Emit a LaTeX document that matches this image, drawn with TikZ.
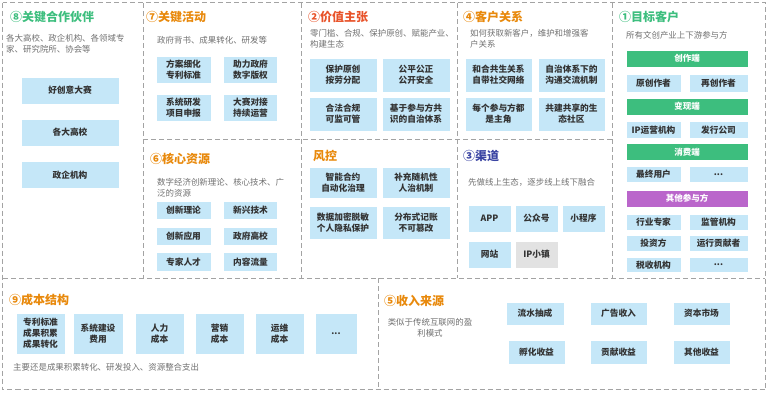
\documentclass[tikz,border=0pt]{standalone}
\usepackage{fontspec}
\setmainfont{Noto Sans CJK SC}
\definecolor{cellblue}{HTML}{C5E7F8}
\definecolor{cellgray}{HTML}{E2E2E2}
\definecolor{tgreen}{HTML}{3DBE7E}
\definecolor{torange}{HTML}{E8890C}
\definecolor{tred}{HTML}{E8532A}
\definecolor{tnavy}{HTML}{3B45A3}
\definecolor{tpurple}{HTML}{BA66CB}
\definecolor{frame}{HTML}{A3A3A3}
\definecolor{desc}{HTML}{707070}
\definecolor{btext}{HTML}{333333}
\tikzset{
  gridline/.style={draw=frame, line width=1pt, dash pattern=on 5pt off 3pt},
  cell/.style={fill=cellblue, draw=white, line width=0.6pt, inner sep=0pt, align=center,
    text=btext, font=\fontsize{8.7}{10.8}\selectfont\bfseries},
  graycell/.style={cell, fill=cellgray},
  bar/.style={fill=tgreen, draw=white, line width=0.6pt, inner sep=0pt, text=white,
    font=\fontsize{8.5}{10}\selectfont\bfseries, minimum width=122pt, minimum height=17pt},
  pbar/.style={bar, fill=tpurple},
  ttl/.style={anchor=west, inner sep=0pt, font=\fontsize{12}{14}\selectfont\bfseries},
  dsc/.style={anchor=west, inner sep=0pt, align=left, text=desc, font=\fontsize{8.45}{11}\selectfont},
}
\begin{document}
\begin{tikzpicture}[x=1pt,y=-1pt]
\useasboundingbox (0,0) rectangle (768,392);
% frame and grid
\draw[gridline] (2.5,2.5) rectangle (765.5,389.5);
\draw[gridline] (143,3) -- (143,278);
\draw[gridline] (301,3) -- (301,278);
\draw[gridline] (457,3) -- (457,278);
\draw[gridline] (612,3) -- (612,278);
\draw[gridline] (143,139) -- (612,139);
\draw[gridline] (3,278) -- (765,278);
\draw[gridline] (378,278) -- (378,389);

% Box 8
\node[ttl, text=tgreen] (t8) at (10,17) {⑧关键合作伙伴};
\node[dsc, anchor=north west] (d8) at (6,34) {各大高校、政企机构、各领域专\\家、研究院所、协会等};
\node[cell, minimum width=98pt, minimum height=27pt] (p1) at (70,90.5) {好创意大赛};
\node[cell, minimum width=98pt, minimum height=27pt] (p2) at (70,132.5) {各大高校};
\node[cell, minimum width=98pt, minimum height=27pt] (p3) at (70,175) {政企机构};

% Box 7
\node[ttl, text=torange] (t7) at (146,17) {⑦关键活动};
\node[dsc] (d7) at (157,40) {政府背书、成果转化、研发等};
\node[cell, minimum width=55pt, minimum height=27pt] (a1) at (183.5,70) {方案细化\\专利标准};
\node[cell, minimum width=54pt, minimum height=27pt] (a2) at (250.5,70) {助力政府\\数字版权};
\node[cell, minimum width=55pt, minimum height=27pt] (a3) at (183.5,107.5) {系统研发\\项目申报};
\node[cell, minimum width=54pt, minimum height=27pt] (a4) at (250.5,107.5) {大赛对接\\持续运营};

% Box 6
\node[ttl, text=torange] (t6) at (150,159) {⑥核心资源};
\node[dsc] (d6) at (157,187.5) {数字经济创新理论、核心技术、广\\泛的资源};
\node[cell, minimum width=55pt, minimum height=18pt] (r1) at (183.5,210.5) {创新理论};
\node[cell, minimum width=54pt, minimum height=18pt] (r2) at (250.5,210.5) {新兴技术};
\node[cell, minimum width=55pt, minimum height=18pt] (r3) at (183.5,236) {创新应用};
\node[cell, minimum width=54pt, minimum height=18pt] (r4) at (250.5,236) {政府高校};
\node[cell, minimum width=55pt, minimum height=19pt] (r5) at (183.5,262) {专家人才};
\node[cell, minimum width=54pt, minimum height=19pt] (r6) at (250.5,262) {内容流量};

% Box 2
\node[ttl, text=tred] (t2) at (308,17) {②价值主张};
\node[dsc] (d2) at (310,38.5) {零门槛、合规、保护原创、赋能产业、\\构建生态};
\node[cell, minimum width=68pt, minimum height=34pt] (v1) at (343,75) {保护原创\\按劳分配};
\node[cell, minimum width=68pt, minimum height=34pt] (v2) at (416,75) {公平公正\\公开安全};
\node[cell, minimum width=68pt, minimum height=34pt] (v3) at (343,114) {合法合规\\可监可管};
\node[cell, minimum width=68pt, minimum height=34pt] (v4) at (416,114) {基于参与方共\\识的自治体系};

% Risk control
\node[ttl, text=torange] (tr) at (313,156) {风控};
\node[cell, minimum width=68pt, minimum height=31pt] (k1) at (343,183) {智能合约\\自动化治理};
\node[cell, minimum width=68pt, minimum height=31pt] (k2) at (416,183) {补充随机性\\人治机制};
\node[cell, minimum width=68pt, minimum height=33pt] (k3) at (343,223) {数据加密脱敏\\个人隐私保护};
\node[cell, minimum width=68pt, minimum height=33pt] (k4) at (416,223) {分布式记账\\不可篡改};

% Box 4
\node[ttl, text=torange] (t4) at (463,17) {④客户关系};
\node[dsc] (d4) at (470,38.5) {如何获取新客户，维护和增强客\\户关系};
\node[cell, minimum width=67pt, minimum height=34pt] (c1) at (498.5,75) {和合共生关系\\自带社交网络};
\node[cell, minimum width=67pt, minimum height=34pt] (c2) at (571.5,75) {自治体系下的\\沟通交流机制};
\node[cell, minimum width=67pt, minimum height=34pt] (c3) at (498.5,114) {每个参与方都\\是主角};
\node[cell, minimum width=67pt, minimum height=34pt] (c4) at (571.5,114) {共建共享的生\\态社区};

% Box 3
\node[ttl, text=tnavy] (t3) at (463,156) {③渠道};
\node[dsc] (d3) at (468,182) {先做线上生态，逐步线上线下融合};
\node[cell, minimum width=43pt, minimum height=27pt] (h1) at (489.5,218.5) {APP};
\node[cell, minimum width=43pt, minimum height=27pt] (h2) at (536.5,218.5) {公众号};
\node[cell, minimum width=43pt, minimum height=27pt] (h3) at (583.5,218.5) {小程序};
\node[cell, minimum width=43pt, minimum height=27pt] (h4) at (489.5,254.5) {网站};
\node[graycell, minimum width=43pt, minimum height=27pt] (h5) at (536.5,254.5) {IP小镇};

% Box 1
\node[ttl, text=tgreen] (t1) at (619,17) {①目标客户};
\node[dsc] (d1) at (626,35) {所有文创产业上下游参与方};
\node[bar] (b1) at (687,58.5) {创作端};
\node[cell, minimum width=55pt, minimum height=18pt] (u1) at (653.5,83) {原创作者};
\node[cell, minimum width=59pt, minimum height=18pt] (u2) at (718.5,83) {再创作者};
\node[bar] (b2) at (687,106.5) {变现端};
\node[cell, minimum width=55pt, minimum height=17pt] (u3) at (653.5,130) {IP运营机构};
\node[cell, minimum width=59pt, minimum height=17pt] (u4) at (718.5,130) {发行公司};
\node[bar] (b3) at (687,152) {消费端};
\node[cell, minimum width=55pt, minimum height=16pt] (u5) at (653.5,174.5) {最终用户};
\node[cell, minimum width=59pt, minimum height=16pt] (u6) at (718.5,174.5) {...};
\node[pbar] (b4) at (687,198.5) {其他参与方};
\node[cell, minimum width=55pt, minimum height=16pt] (u7) at (653.5,222) {行业专家};
\node[cell, minimum width=59pt, minimum height=16pt] (u8) at (718.5,222) {监管机构};
\node[cell, minimum width=55pt, minimum height=16pt] (u9) at (653.5,243.5) {投资方};
\node[cell, minimum width=59pt, minimum height=16pt] (u10) at (718.5,243.5) {运行贡献者};
\node[cell, minimum width=55pt, minimum height=15pt] (u11) at (653.5,265) {税收机构};
\node[cell, minimum width=59pt, minimum height=15pt] (u12) at (718.5,265) {...};

% Box 9
\node[ttl, text=torange] (t9) at (9,300) {⑨成本结构};
\node[cell, minimum width=49pt, minimum height=41pt] (s1) at (40.5,333.5) {专利标准\\成果积累\\成果转化};
\node[cell, minimum width=50pt, minimum height=41pt] (s2) at (98,333.5) {系统建设\\费用};
\node[cell, minimum width=49pt, minimum height=41pt] (s3) at (159.5,333.5) {人力\\成本};
\node[cell, minimum width=49pt, minimum height=41pt] (s4) at (219.5,333.5) {营销\\成本};
\node[cell, minimum width=49pt, minimum height=41pt] (s5) at (279.5,333.5) {运维\\成本};
\node[cell, minimum width=42pt, minimum height=41pt] (s6) at (336,333.5) {...};
\node[dsc] (d9) at (13,367) {主要还是成果积累转化、研发投入、资源整合支出};

% Box 5
\node[ttl, text=torange] (t5) at (384,301) {⑤收入来源};
\node[dsc, anchor=center, align=center] (d5) at (430,328) {类似于传统互联网的盈\\利模式};
\node[cell, minimum width=58pt, minimum height=23pt] (i1) at (535,313.5) {流水抽成};
\node[cell, minimum width=57pt, minimum height=23pt] (i2) at (618.5,313.5) {广告收入};
\node[cell, minimum width=57pt, minimum height=23pt] (i3) at (701.5,313.5) {资本市场};
\node[cell, minimum width=57pt, minimum height=24pt] (i4) at (536.5,352) {孵化收益};
\node[cell, minimum width=57pt, minimum height=24pt] (i5) at (618.5,352) {贡献收益};
\node[cell, minimum width=57pt, minimum height=24pt] (i6) at (701.5,352) {其他收益};
\end{tikzpicture}
\end{document}
